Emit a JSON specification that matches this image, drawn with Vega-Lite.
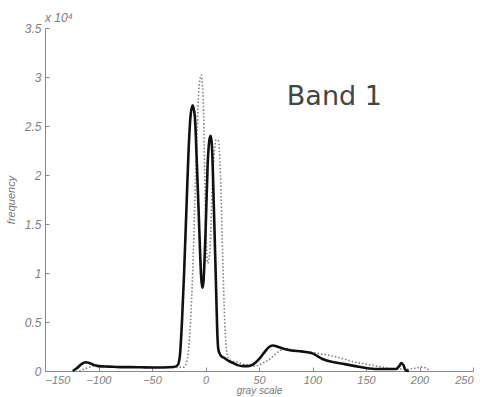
{
  "$schema": "https://vega.github.io/schema/vega-lite/v6.json",
  "width": 428,
  "height": 343,
  "autosize": "none",
  "padding": {"left": 45, "top": 28, "right": 12, "bottom": 26},
  "background": "white",
  "config": {
    "view": {"stroke": null},
    "axis": {
      "labelFont": "Liberation Sans",
      "labelFontStyle": "italic",
      "labelFontSize": 12,
      "labelColor": "#808080",
      "titleFont": "Liberation Sans",
      "titleFontStyle": "italic",
      "titleFontWeight": "normal",
      "titleFontSize": 11,
      "titleColor": "#777777",
      "domainColor": "#888888",
      "tickColor": "#888888",
      "grid": false
    }
  },
  "datasets": {
    "solid": [
      {"x": -124, "y": 0}, {"x": -120, "y": 0.03}, {"x": -116, "y": 0.07}, {"x": -112, "y": 0.09},
      {"x": -108, "y": 0.08}, {"x": -104, "y": 0.06}, {"x": -100, "y": 0.05}, {"x": -90, "y": 0.045},
      {"x": -80, "y": 0.04}, {"x": -70, "y": 0.04}, {"x": -60, "y": 0.038}, {"x": -50, "y": 0.035},
      {"x": -40, "y": 0.035}, {"x": -30, "y": 0.04}, {"x": -26, "y": 0.06}, {"x": -24, "y": 0.15},
      {"x": -22, "y": 0.5}, {"x": -20, "y": 1.0}, {"x": -18, "y": 1.6}, {"x": -16, "y": 2.2},
      {"x": -14, "y": 2.6}, {"x": -12, "y": 2.71}, {"x": -10, "y": 2.6}, {"x": -8, "y": 2.1},
      {"x": -6, "y": 1.5}, {"x": -4, "y": 0.95}, {"x": -3, "y": 0.85}, {"x": -2, "y": 0.9},
      {"x": 0, "y": 1.4}, {"x": 2, "y": 2.1}, {"x": 4, "y": 2.38}, {"x": 5, "y": 2.4},
      {"x": 6, "y": 2.3}, {"x": 8, "y": 1.6}, {"x": 10, "y": 0.8}, {"x": 11, "y": 0.4},
      {"x": 12, "y": 0.22}, {"x": 14, "y": 0.16}, {"x": 18, "y": 0.13}, {"x": 22, "y": 0.1},
      {"x": 26, "y": 0.08}, {"x": 30, "y": 0.06}, {"x": 35, "y": 0.05}, {"x": 40, "y": 0.05},
      {"x": 45, "y": 0.07}, {"x": 50, "y": 0.12}, {"x": 55, "y": 0.19}, {"x": 60, "y": 0.25},
      {"x": 63, "y": 0.26}, {"x": 67, "y": 0.25}, {"x": 72, "y": 0.23}, {"x": 80, "y": 0.21},
      {"x": 90, "y": 0.2}, {"x": 100, "y": 0.18}, {"x": 105, "y": 0.15}, {"x": 110, "y": 0.12},
      {"x": 120, "y": 0.09}, {"x": 130, "y": 0.07}, {"x": 140, "y": 0.05}, {"x": 150, "y": 0.03},
      {"x": 160, "y": 0.02}, {"x": 170, "y": 0.02}, {"x": 178, "y": 0.02}, {"x": 181, "y": 0.05},
      {"x": 183, "y": 0.08}, {"x": 185, "y": 0.06}, {"x": 187, "y": 0.01}, {"x": 190, "y": 0}
    ],
    "dotted": [
      {"x": -118, "y": 0}, {"x": -113, "y": 0.02}, {"x": -108, "y": 0.04}, {"x": -102, "y": 0.06},
      {"x": -96, "y": 0.05}, {"x": -90, "y": 0.04}, {"x": -70, "y": 0.04}, {"x": -50, "y": 0.035},
      {"x": -30, "y": 0.035}, {"x": -20, "y": 0.04}, {"x": -18, "y": 0.08}, {"x": -16, "y": 0.2},
      {"x": -14, "y": 0.5}, {"x": -12, "y": 1.0}, {"x": -10, "y": 1.7}, {"x": -8, "y": 2.4},
      {"x": -6, "y": 2.9}, {"x": -4, "y": 3.02}, {"x": -2, "y": 2.7}, {"x": 0, "y": 1.6},
      {"x": 2, "y": 1.1}, {"x": 4, "y": 1.2}, {"x": 6, "y": 1.8}, {"x": 8, "y": 2.2},
      {"x": 10, "y": 2.36}, {"x": 12, "y": 2.35}, {"x": 14, "y": 2.0}, {"x": 16, "y": 1.2},
      {"x": 18, "y": 0.5}, {"x": 20, "y": 0.18}, {"x": 22, "y": 0.12}, {"x": 25, "y": 0.1},
      {"x": 30, "y": 0.09}, {"x": 35, "y": 0.07}, {"x": 40, "y": 0.06}, {"x": 45, "y": 0.05},
      {"x": 50, "y": 0.06}, {"x": 55, "y": 0.09}, {"x": 60, "y": 0.12}, {"x": 65, "y": 0.17},
      {"x": 70, "y": 0.21}, {"x": 75, "y": 0.23}, {"x": 80, "y": 0.22}, {"x": 90, "y": 0.2},
      {"x": 100, "y": 0.19}, {"x": 105, "y": 0.18}, {"x": 110, "y": 0.17}, {"x": 120, "y": 0.15},
      {"x": 130, "y": 0.12}, {"x": 140, "y": 0.09}, {"x": 150, "y": 0.07}, {"x": 160, "y": 0.05},
      {"x": 170, "y": 0.03}, {"x": 180, "y": 0.02}, {"x": 190, "y": 0.02}, {"x": 197, "y": 0.03},
      {"x": 202, "y": 0.04}, {"x": 206, "y": 0.03}, {"x": 210, "y": 0}
    ],
    "labels": [
      {"label": "Band 1", "x": 76, "y": 2.8}
    ],
    "exponent": [
      {"label": "x 10⁴", "x": -150, "y": 3.5}
    ]
  },
  "layer": [
    {
      "data": {"name": "dotted"},
      "mark": {"type": "line", "color": "#808080", "strokeWidth": 1.6, "strokeDash": [1.5, 2], "interpolate": "monotone"},
      "encoding": {
        "x": {
          "field": "x", "type": "quantitative",
          "scale": {"domain": [-150, 250], "nice": false},
          "axis": {"title": "gray scale", "values": [-150, -100, -50, 0, 50, 100, 150, 200, 250], "tickSize": -4, "labelPadding": 7, "labelFontSize": 11, "titleY": 14, "titleBaseline": "top", "titleFontSize": 10}
        },
        "y": {
          "field": "y", "type": "quantitative",
          "scale": {"domain": [0, 3.5], "nice": false},
          "axis": {"title": "frequency", "values": [0, 0.5, 1, 1.5, 2, 2.5, 3, 3.5], "format": "~g", "tickSize": -4, "labelPadding": 8, "titlePadding": 8}
        }
      }
    },
    {
      "data": {"name": "solid"},
      "mark": {"type": "line", "color": "#111111", "strokeWidth": 2.6, "interpolate": "monotone"},
      "encoding": {
        "x": {"field": "x", "type": "quantitative"},
        "y": {"field": "y", "type": "quantitative"}
      }
    },
    {
      "data": {"name": "labels"},
      "mark": {"type": "text", "font": "DejaVu Sans", "fontSize": 27, "color": "#444444", "align": "left", "baseline": "middle"},
      "encoding": {
        "x": {"field": "x", "type": "quantitative"},
        "y": {"field": "y", "type": "quantitative"},
        "text": {"field": "label"}
      }
    },
    {
      "data": {"name": "exponent"},
      "mark": {"type": "text", "font": "Liberation Sans", "fontStyle": "italic", "fontSize": 12, "color": "#777777", "align": "left", "baseline": "bottom", "dx": 0, "dy": -3},
      "encoding": {
        "x": {"field": "x", "type": "quantitative"},
        "y": {"field": "y", "type": "quantitative"},
        "text": {"field": "label"}
      }
    }
  ]
}
